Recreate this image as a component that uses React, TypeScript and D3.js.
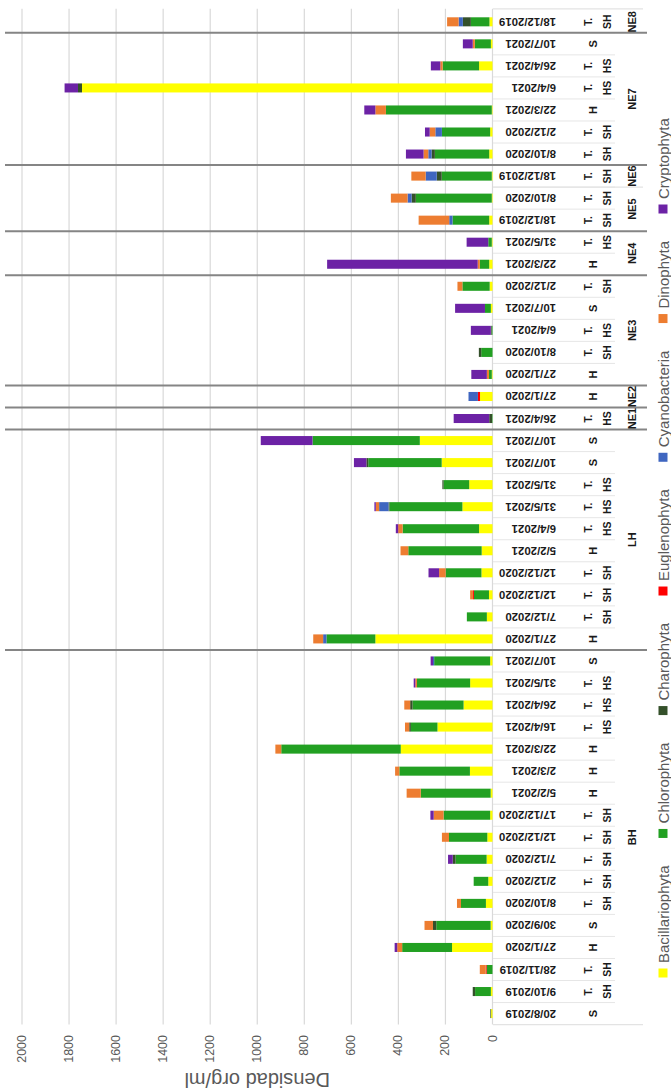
import React from 'react';
import * as d3 from 'd3';

// ---------- data (category 1 = bottom of picture) ----------
const sites = [
  'BH','BH','BH','BH','BH','BH','BH','BH','BH','BH','BH','BH','BH','BH','BH','BH','BH',
  'LH','LH','LH','LH','LH','LH','LH','LH','LH','LH',
  'NE1','NE2',
  'NE3','NE3','NE3','NE3','NE3',
  'NE4','NE4',
  'NE5','NE5','NE6',
  'NE7','NE7','NE7','NE7','NE7','NE7',
  'NE8'
];
const dates = [
  '20/8/2019','9/10/2019','28/11/2019','27/1/2020','30/9/2020','8/10/2020','2/12/2020','7/12/2020','12/12/2020','17/12/2020','5/2/2021','2/3/2021','22/3/2021','16/4/2021','26/4/2021','31/5/2021','10/7/2021',
  '27/1/2020','7/12/2020','12/12/2020','12/12/2020','5/2/2021','6/4/2021','31/5/2021','31/5/2021','10/7/2021','10/7/2021',
  '26/4/2021','27/1/2020',
  '27/1/2020','8/10/2020','6/4/2021','10/7/2021','2/12/2020',
  '22/3/2021','31/5/2021',
  '18/12/2019','8/10/2020','18/12/2019',
  '8/10/2020','2/12/2020','22/3/2021','6/4/2021','26/4/2021','10/7/2021',
  '18/12/2019'
];
const seasons = [
  'S','SH','SH','H','S','SH','SH','SH','SH','SH','H','H','H','HS','HS','HS','S',
  'H','SH','SH','SH','H','HS','HS','HS','S','S',
  'HS','H',
  'H','SH','HS','S','SH',
  'H','HS',
  'SH','SH','SH',
  'SH','SH','H','HS','HS','S',
  'SH'
];
const bacillariophyta = [6,7,0,172,8,28,18,25,22,10,8,96,390,234,123,95,10, 498,24,15,47,46,57,128,99,216,309, 0,53, 3,0,0,7,12, 14,3, 14,3,3, 14,10,3,1745,57,7, 13];
const chlorophyta =     [0,67,25,212,231,106,62,132,163,198,297,300,508,113,217,226,238, 208,85,64,152,312,325,310,109,312,456, 2,0, 12,48,4,25,116, 40,15, 156,323,213, 231,205,450,0,155,68, 79];
const charophyta =      [3,10,0,0,14,0,0,12,0,0,0,0,0,7,10,0,0, 0,0,0,0,0,0,4,5,8,0, 12,0, 0,10,3,0,0, 0,0, 0,18,21, 14,0,0,17,0,0, 34];
const euglenophyta =    [0,0,4,0,0,0,0,0,0,0,0,0,0,0,0,0,0, 0,0,4,0,0,0,0,0,0,0, 0,9, 0,0,0,0,0, 0,0, 0,0,0, 0,0,0,0,0,0, 0];
const cyanobacteria =   [0,0,0,0,0,0,0,0,0,0,0,0,0,0,0,0,5, 14,0,0,0,0,0,40,0,0,0, 0,40, 0,0,0,0,0, 0,0, 14,17,47, 14,28,0,0,0,0, 18];
const dinophyta =       [0,0,25,21,36,17,0,0,30,42,60,18,25,18,25,7,0, 42,0,12,28,33,19,14,0,0,0, 0,0, 9,0,0,0,21, 9,0, 130,71,61, 20,24,45,0,10,9, 49];
const cryptophyta =     [0,0,0,11,0,0,0,20,0,14,0,0,0,0,0,7,10, 0,0,0,45,0,10,6,0,53,220, 151,0, 66,0,85,127,0, 640,92, 0,0,0, 75,20,47,57,40,42, 0];

const seriesNames = ['Bacillariophyta','Chlorophyta','Charophyta','Euglenophyta','Cyanobacteria','Dinophyta','Cryptophyta'];
const seriesValues = [bacillariophyta, chlorophyta, charophyta, euglenophyta, cyanobacteria, dinophyta, cryptophyta];
const seriesColors = ['#FFFF00','#22A022','#34502A','#FF0000','#3F66C0','#ED7D31','#6C22A5'];
const valueTicks = [0,200,400,600,800,1000,1200,1400,1600,1800,2000];
const axisTitle = 'Densidad org/ml';
const transitionPrefix = 'T.';

const FONT = '"Liberation Sans", Arial, sans-serif';

function measure(text: string, font: string): number {
  const c = document.createElement('canvas');
  const ctx = c.getContext('2d');
  if (!ctx) return text.length * 8;
  ctx.font = font;
  return ctx.measureText(text).width;
}

export default function App() {
  const W = 671, H = 1091;
  const n = dates.length;
  const idx = d3.range(n);

  const y = d3.scaleBand<number>().domain(idx).range([1024.6, 10.8]).paddingInner(0.59).paddingOuter(0.295);
  const x = d3.scaleLinear().domain([0, 2000]).range([492.5, 22]);
  const step = y.step();
  const cy = (i: number) => (y(i) as number) + y.bandwidth() / 2;

  const rows = idx.map(i => {
    const r: Record<string, number> = {};
    seriesNames.forEach((s, k) => { r[s] = seriesValues[k][i]; });
    return r;
  });
  const stacked = d3.stack<Record<string, number>>().keys(seriesNames)(rows);

  const plotTop = 10.8 - 2, plotBottom = 1024.6;

  // group boundaries
  const boundaries: { yb: number; dark: boolean }[] = [];
  for (let i = 0; i < n - 1; i++) {
    const yb = cy(i) - step / 2;
    if (sites[i] !== sites[i + 1]) {
      const dark = !(sites[i] === 'NE5' && sites[i + 1] === 'NE6');
      boundaries.push({ yb, dark });
    }
  }
  const groups: { name: string; c: number }[] = [];
  let start = 0;
  for (let i = 1; i <= n; i++) {
    if (i === n || sites[i] !== sites[start]) {
      groups.push({ name: sites[start], c: (cy(start) + cy(i - 1)) / 2 });
      start = i;
    }
  }

  // legend layout (vertical, bottom to top)
  const legendFont = `15px ${FONT}`;
  const legendItems: { name: string; color: string; sq: number }[] = [];
  let ly = 973;
  seriesNames.forEach((s, k) => {
    legendItems.push({ name: s, color: seriesColors[k], sq: ly });
    ly -= measure(s, legendFont) + 42;
  });

  return (
    <svg width={W} height={H} style={{ position: 'absolute', left: 0, top: 0, background: '#fff' }} fontFamily={FONT}>
      <rect x={0} y={0} width={W} height={H} fill="#fff" />
      {/* gridlines */}
      {valueTicks.map(t => (
        <line key={'g' + t} x1={x(t)} x2={x(t)} y1={plotTop} y2={plotBottom} stroke="#d9d9d9" strokeWidth={1.2} />
      ))}
      {/* category light tick lines */}
      {idx.slice(0, n - 1).map(i => (
        <line key={'t' + i} x1={493} x2={615} y1={cy(i) - step / 2} y2={cy(i) - step / 2} stroke="#e6e6e6" strokeWidth={1} />
      ))}
      <line x1={493} x2={643} y1={plotBottom} y2={plotBottom} stroke="#e3e3e3" strokeWidth={1.2} />
      <line x1={493} x2={643} y1={plotTop} y2={plotTop} stroke="#e3e3e3" strokeWidth={1.2} />
      {/* bars */}
      {stacked.map((layer, k) => (
        <g key={layer.key} fill={seriesColors[k]}>
          {layer.map((d, i) => (
            d[1] - d[0] > 0 ? (
              <rect key={i} x={x(d[1])} y={y(i)} width={x(d[0]) - x(d[1])} height={y.bandwidth()} />
            ) : null
          ))}
        </g>
      ))}
      {/* group separators */}
      {boundaries.map((b, i) => b.dark ? (
        <line key={'s' + i} x1={5} x2={647} y1={b.yb} y2={b.yb} stroke="#858585" strokeWidth={2} />
      ) : (
        <line key={'s' + i} x1={493} x2={643} y1={b.yb} y2={b.yb} stroke="#e3e3e3" strokeWidth={1.2} />
      ))}
      {/* date labels */}
      {idx.map(i => (
        <text key={'d' + i} transform={`translate(556,${cy(i)}) rotate(180)`} textAnchor="start" dominantBaseline="central"
          fontSize={11.4} fontWeight="bold" fill="#1a1a1a">{dates[i]}</text>
      ))}
      {/* season labels */}
      {idx.map(i => {
        const s = seasons[i];
        if (s.length === 1) {
          return (
            <text key={'se' + i} transform={`translate(593,${cy(i)}) rotate(-90)`} textAnchor="middle" dominantBaseline="central"
              fontSize={11} fontWeight="bold" fill="#1a1a1a">{s}</text>
          );
        }
        return (
          <g key={'se' + i}>
            <text transform={`translate(588,${cy(i)}) rotate(-90)`} textAnchor="middle" dominantBaseline="central"
              fontSize={10} fontWeight="bold" fill="#1a1a1a">{transitionPrefix}</text>
            <text transform={`translate(607,${cy(i)}) rotate(-90)`} textAnchor="middle" dominantBaseline="central"
              fontSize={10.5} fontWeight="bold" fill="#1a1a1a">{s}</text>
          </g>
        );
      })}
      {/* site labels */}
      {groups.map(g => (
        <text key={'site' + g.name} transform={`translate(632,${g.c}) rotate(-90)`} textAnchor="middle" dominantBaseline="central"
          fontSize={11} fontWeight="bold" fill="#1a1a1a">{g.name}</text>
      ))}
      {/* value tick labels */}
      {valueTicks.map(t => (
        <text key={'vl' + t} transform={`translate(${x(t)},1035) rotate(-90)`} textAnchor="end" dominantBaseline="central"
          fontSize={12.5} fill="#595959">{t}</text>
      ))}
      {/* axis title */}
      <text transform={`translate(${(x(0) + x(2000)) / 2},1080) rotate(180)`} textAnchor="middle" dominantBaseline="central"
        fontSize={20} fill="#595959">{axisTitle}</text>
      {/* legend */}
      {legendItems.map(it => (
        <g key={'lg' + it.name}>
          <rect x={663 - 4.5} y={it.sq - 4.5} width={9} height={9} fill={it.color} />
          <text transform={`translate(663,${it.sq - 10}) rotate(-90)`} textAnchor="start" dominantBaseline="central"
            fontSize={15} fill="#595959">{it.name}</text>
        </g>
      ))}
    </svg>
  );
}
